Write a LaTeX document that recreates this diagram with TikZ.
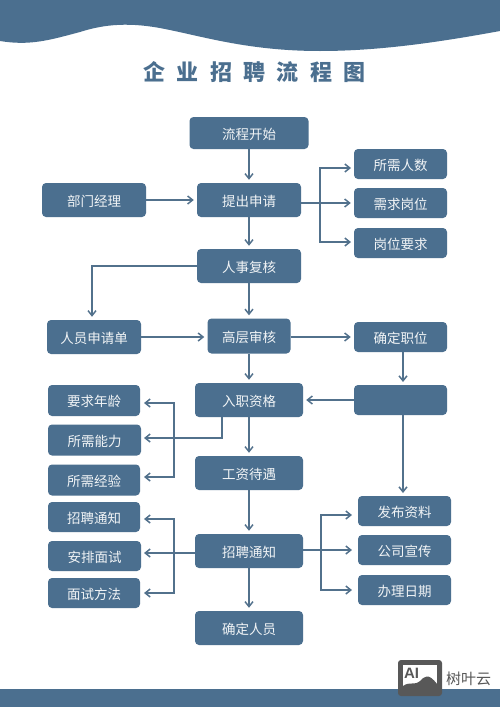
\documentclass[tikz,border=0pt]{standalone}
\usepackage{fontspec}
\usetikzlibrary{arrows.meta}
\setmainfont{Noto Sans CJK SC}
\setsansfont{Liberation Sans}
\newfontfamily\titlefont[LetterSpace=52]{Noto Sans CJK SC Black}
\definecolor{flowBlue}{RGB}{75,111,143}
\definecolor{flowLine}{RGB}{82,113,140}
\definecolor{flowLogo}{RGB}{88,88,88}
\begin{document}
\begin{tikzpicture}[x=1pt,y=-1pt,
    stepbox/.style={fill=flowBlue, rounded corners=4pt, inner sep=0pt,
      font=\fontsize{13.5}{15}\selectfont, text=white!92!flowBlue,
      text height=12.5pt, text depth=0pt},
    link/.style={draw=flowLine, line width=1.5pt,
      -{Straight Barb[length=5pt,width=8pt]}, shorten >=3pt},
    trunk/.style={draw=flowLine, line width=1.5pt}]
  \useasboundingbox (0,0) rectangle (500,707);
  \fill[white] (0,0) rectangle (500,707);

  % header and footer bands
  \fill[flowBlue] (0,0) -- (0,41) .. controls (30,46) and (50,40) .. (80,32)
    .. controls (105,24) and (130,22) .. (165,29)
    .. controls (205,37) and (250,51) .. (320,51)
    .. controls (380,51) and (440,42) .. (500,31) -- (500,0) -- cycle;
  \fill[flowBlue] (0,689) rectangle (500,707);
  \node[font=\fontsize{22}{24}\selectfont\titlefont, text=flowBlue] (title)
    at (254.5,72) {企业招聘流程图};

  % main column
  \node[stepbox, minimum width=119pt, minimum height=32pt] (start) at (249,133) {流程开始};
  \node[stepbox, minimum width=104pt, minimum height=34pt] (apply) at (249,200) {提出申请};
  \node[stepbox, minimum width=104pt, minimum height=34pt] (review) at (249,266) {人事复核};
  \node[stepbox, minimum width=83pt, minimum height=35pt] (senior) at (249,336) {高层审核};
  \node[stepbox, minimum width=108pt, minimum height=34pt] (entry) at (249,400) {入职资格};
  \node[stepbox, minimum width=108pt, minimum height=34pt] (salary) at (249,473) {工资待遇};
  \node[stepbox, minimum width=108pt, minimum height=34pt] (notice) at (249,551) {招聘通知};
  \node[stepbox, minimum width=108pt, minimum height=34pt] (hire) at (249,628) {确定人员};

  % left column
  \node[stepbox, minimum width=104pt, minimum height=34pt] (manager) at (94,200) {部门经理};
  \node[stepbox, minimum width=94pt, minimum height=34pt] (form) at (94,337) {人员申请单};
  \node[stepbox, minimum width=92pt, minimum height=31pt] (age) at (94,400.5) {要求年龄};
  \node[stepbox, minimum width=93pt, minimum height=31pt] (ability) at (94.5,440) {所需能力};
  \node[stepbox, minimum width=92pt, minimum height=31pt] (exper) at (94,480) {所需经验};
  \node[stepbox, minimum width=92pt, minimum height=30pt] (invite) at (94,517) {招聘通知};
  \node[stepbox, minimum width=93pt, minimum height=30pt] (arrange) at (94.5,556) {安排面试};
  \node[stepbox, minimum width=92pt, minimum height=30pt] (method) at (94,593) {面试方法};

  % right column
  \node[stepbox, minimum width=93pt, minimum height=30pt] (count) at (400.5,164) {所需人数};
  \node[stepbox, minimum width=93pt, minimum height=30pt] (post) at (400.5,203) {需求岗位};
  \node[stepbox, minimum width=93pt, minimum height=30pt] (need) at (400.5,243) {岗位要求};
  \node[stepbox, minimum width=93pt, minimum height=30pt] (fix) at (400.5,337) {确定职位};
  \node[stepbox, minimum width=93pt, minimum height=30pt] (blank) at (400.5,400) {};
  \node[stepbox, minimum width=93pt, minimum height=30pt] (publish) at (404.5,511) {发布资料};
  \node[stepbox, minimum width=93pt, minimum height=30pt] (promo) at (404.5,550) {公司宣传};
  \node[stepbox, minimum width=93pt, minimum height=30pt] (date) at (404.5,590) {办理日期};

  % junctions
  \coordinate (applyFork) at (320,203);
  \coordinate (countIn) at (354,168);
  \coordinate (needIn) at (354,242);
  \coordinate (entryDrop) at (222,417);
  \coordinate (entryFork) at (174,438);
  \coordinate (ageIn) at (141,403);
  \coordinate (abilityIn) at (141,438);
  \coordinate (experIn) at (141,477);
  \coordinate (noticeFork) at (174,553);
  \coordinate (inviteIn) at (141,519);
  \coordinate (arrangeIn) at (141,553);
  \coordinate (methodIn) at (141,593);
  \coordinate (promoFork) at (321,550);
  \coordinate (publishIn) at (355,515);
  \coordinate (promoIn) at (355,550);
  \coordinate (dateIn) at (355,590);
  \coordinate (reviewDrop) at (92,266);
  \coordinate (blankDrop) at (403,415);
  \coordinate (blankTop) at (403,385);
  \coordinate (fixBase) at (403,352);
  \coordinate (publishTop) at (403,496);

  % connectors
  \draw[link] (start) -- (apply);
  \draw[link] (apply) -- (review);
  \draw[link] (review) -- (senior);
  \draw[link] (senior) -- (entry);
  \draw[link] (entry) -- (salary);
  \draw[link] (salary) -- (notice);
  \draw[link] (notice) -- (hire);
  \draw[link] (manager) -- (apply);
  \draw[link] (form) -- (form -| senior.west);
  \draw[link] (senior.east |- fix) -- (fix);
  \draw[link] (fixBase) -- (blankTop);
  \draw[link] (blank) -- (entry);
  \draw[link] (blankDrop) -- (publishTop);
  \draw[link] (review.west) -- (reviewDrop) -- (form.north -| reviewDrop);

  \draw[trunk] (apply.east |- applyFork) -- (applyFork);
  \draw[link] (applyFork) |- (countIn);
  \draw[link] (applyFork) -- (post);
  \draw[link] (applyFork) |- (needIn);

  \draw[link] (entryDrop) |- (abilityIn);
  \draw[link] (entryFork) |- (ageIn);
  \draw[link] (entryFork) |- (experIn);

  \draw[link] (notice.west |- noticeFork) -- (arrangeIn);
  \draw[link] (noticeFork) |- (inviteIn);
  \draw[link] (noticeFork) |- (methodIn);

  \draw[trunk] (notice.east |- promoFork) -- (promoFork);
  \draw[link] (promoFork) |- (publishIn);
  \draw[link] (promoFork) -- (promoIn);
  \draw[link] (promoFork) |- (dateIn);

  % logo
  \fill[flowLogo, rounded corners=3pt] (398,660) rectangle (442,696);
  \fill[white] (403,665) rectangle (437,686);
  \fill[flowLogo] (403,692) -- (403,686) .. controls (410,681) and (414,686) .. (420,681)
    .. controls (424,677) and (428,672) .. (437,684) -- (437,692) -- cycle;
  \node[font=\fontsize{15}{15}\selectfont\bfseries\sffamily, text=flowLogo, inner sep=0pt] (logoAi) at (411.5,673.5) {AI};
  \node[font=\fontsize{15}{16}\selectfont, text=flowLogo, anchor=west, inner sep=0pt] (logoName) at (446,679) {树叶云};
\end{tikzpicture}
\end{document}
